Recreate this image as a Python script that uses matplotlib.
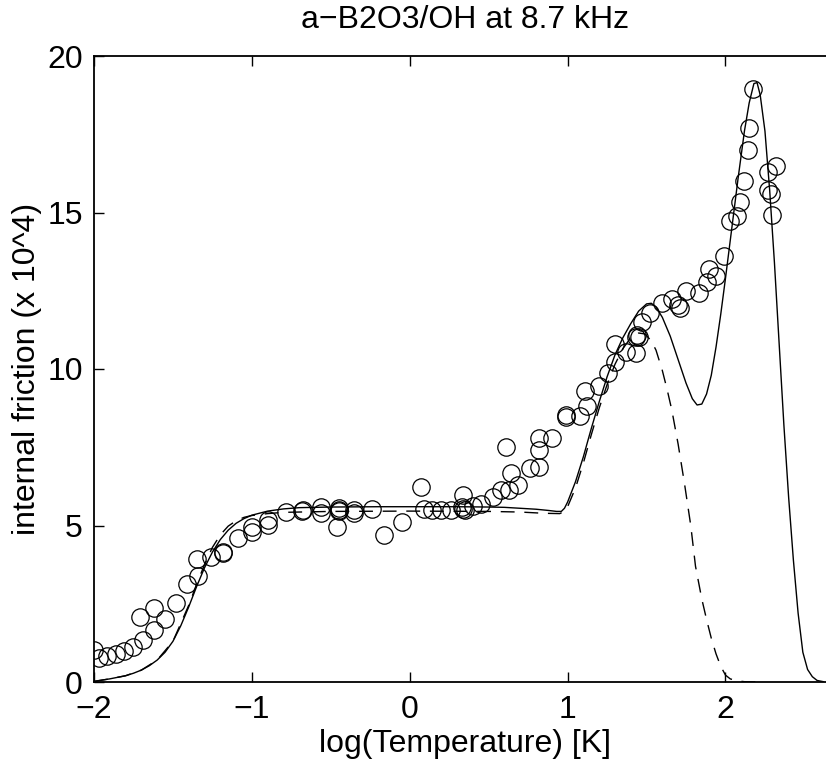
import numpy as np
import matplotlib
matplotlib.use("Agg")
import matplotlib.pyplot as plt

plt.rcParams['font.family'] = ['Liberation Sans', 'DejaVu Sans']

# measured internal friction (open circles)
logT_meas = [-2.00, -1.97, -1.92, -1.86, -1.81, -1.755, -1.69, -1.71, -1.62, -1.62,
             -1.55, -1.48, -1.41, -1.34, -1.35, -1.26, -1.18, -1.18, -1.09, -1.00,
             -1.00, -0.90, -0.90, -0.785, -0.675, -0.68, -0.56, -0.56, -0.45, -0.45,
             -0.45, -0.46, -0.35, -0.35, -0.24, -0.16, -0.05, 0.07, 0.09, 0.14,
             0.20, 0.26, 0.34, 0.34, 0.35, 0.33, 0.40, 0.45, 0.53, 0.58,
             0.61, 0.63, 0.64, 0.685, 0.76, 0.82, 0.82, 0.82, 0.90, 0.99,
             0.99, 1.08, 1.12, 1.11, 1.20, 1.255, 1.30, 1.30, 1.37, 1.43,
             1.45, 1.44, 1.43, 1.47, 1.52, 1.60, 1.66, 1.71, 1.70, 1.75,
             1.835, 1.88, 1.895, 1.94, 1.99, 2.03, 2.07, 2.09, 2.12, 2.14,
             2.15, 2.173, 2.27, 2.27, 2.29, 2.295, 2.32]
Q_meas = [1.02, 0.76, 0.83, 0.89, 1.00, 1.11, 1.34, 2.07, 1.66, 2.35,
          2.00, 2.51, 3.13, 3.39, 3.92, 4.00, 4.16, 4.12, 4.59, 4.96,
          4.80, 5.18, 5.02, 5.44, 5.51, 5.47, 5.60, 5.40, 5.51, 5.56,
          5.46, 4.94, 5.41, 5.48, 5.54, 4.70, 5.12, 6.22, 5.54, 5.51,
          5.51, 5.51, 5.54, 5.97, 5.50, 5.58, 5.62, 5.70, 5.92, 6.13,
          7.52, 6.13, 6.67, 6.29, 6.83, 6.88, 7.41, 7.79, 7.79, 8.46,
          8.53, 8.50, 8.82, 9.31, 9.46, 9.86, 10.23, 10.80, 10.55, 10.50,
          11.01, 11.10, 11.03, 11.51, 11.80, 12.12, 12.23, 11.94, 12.05, 12.50,
          12.44, 12.79, 13.20, 12.97, 13.60, 14.74, 14.90, 15.35, 16.00, 17.00,
          17.70, 18.93, 16.28, 15.72, 15.60, 14.92, 16.50]

# model fit, both relaxation processes (solid)
logT_fit = [-2.00, -1.95, -1.90, -1.85, -1.80, -1.75, -1.70, -1.65, -1.60, -1.55,
            -1.50, -1.45, -1.40, -1.35, -1.30, -1.25, -1.20, -1.15, -1.10, -1.05,
            -1.00, -0.90, -0.80, -0.70, -0.50, -0.20, 0.00, 0.30, 0.50, 0.60,
            0.70, 0.80, 0.88, 0.93, 0.96, 0.98, 1.00, 1.05, 1.10, 1.15,
            1.20, 1.25, 1.30, 1.35, 1.40, 1.45, 1.50, 1.53, 1.56, 1.60,
            1.65, 1.70, 1.75, 1.79, 1.82, 1.85, 1.88, 1.91, 1.94, 1.97,
            2.00, 2.04, 2.08, 2.12, 2.15, 2.18, 2.20, 2.22, 2.25, 2.28,
            2.31, 2.34, 2.37, 2.40, 2.43, 2.46, 2.49, 2.52, 2.55, 2.58,
            2.62]
Q_fit = [0.02, 0.06, 0.10, 0.15, 0.20, 0.28, 0.38, 0.52, 0.70, 0.95,
         1.30, 1.80, 2.40, 3.05, 3.65, 4.15, 4.55, 4.85, 5.07, 5.22,
         5.33, 5.46, 5.53, 5.57, 5.59, 5.60, 5.60, 5.60, 5.59, 5.58,
         5.55, 5.52, 5.48, 5.45, 5.45, 5.55, 5.75, 6.40, 7.20, 8.10,
         8.95, 9.75, 10.45, 11.00, 11.45, 11.85, 12.08, 12.10, 11.98, 11.65,
         11.05, 10.30, 9.55, 9.05, 8.85, 8.88, 9.20, 9.80, 10.70, 11.75,
         12.90, 14.50, 16.10, 17.60, 18.50, 19.12, 19.15, 18.75, 17.60, 15.70,
         13.40, 10.80, 8.20, 5.90, 3.90, 2.20, 0.95, 0.40, 0.17, 0.05,
         0.01]

# model fit, lower-temperature process only (dashed)
logT_dash = [-2.00, -1.90, -1.80, -1.70, -1.60, -1.50, -1.40, -1.35, -1.30, -1.25,
             -1.20, -1.15, -1.10, -1.05, -1.00, -0.90, -0.80, -0.50, 0.00, 0.50,
             0.70, 0.85, 0.95, 0.98, 1.00, 1.05, 1.10, 1.15, 1.20, 1.25,
             1.30, 1.35, 1.40, 1.45, 1.49, 1.53, 1.56, 1.60, 1.63, 1.66,
             1.70, 1.74, 1.78, 1.81, 1.85, 1.88, 1.91, 1.94, 1.97, 2.00,
             2.03, 2.07, 2.12, 2.20]
Q_dash = [0.02, 0.10, 0.20, 0.38, 0.70, 1.30, 2.45, 3.12, 3.75, 4.30,
          4.70, 4.98, 5.15, 5.26, 5.32, 5.38, 5.42, 5.45, 5.46, 5.45,
          5.43, 5.39, 5.38, 5.45, 5.60, 6.20, 7.00, 7.90, 8.75, 9.50,
          10.15, 10.65, 11.00, 11.15, 11.12, 10.90, 10.60, 9.95, 9.35, 8.69,
          7.60, 6.35, 5.00, 3.70, 2.65, 2.00, 1.40, 0.90, 0.50, 0.22,
          0.10, 0.04, 0.01, 0.00]

fig = plt.figure(figsize=(8.26, 7.68), dpi=100)
ax = fig.add_axes([94/826, 86/768, 742/826, 626/768])

ax.plot(logT_fit, Q_fit, '-', color='k', lw=1.0)
ax.plot(logT_dash, Q_dash, '--', color='k', lw=1.0, dashes=(10, 7))
ax.plot(logT_meas, Q_meas, 'o', mfc='none', mec='k', ms=12.5, mew=0.9)

ax.set_xlim(-2, 2.7)
ax.set_ylim(0, 20)
ax.set_xticks([-2, -1, 0, 1, 2])
ax.set_yticks([0, 5, 10, 15, 20])
ax.set_xticklabels(['\u22122', '\u22121', '0', '1', '2'])
ax.tick_params(direction='in', length=7, width=1.0, labelsize=23,
               top=True, right=True)
ax.tick_params(axis='x', pad=9)
ax.tick_params(axis='y', pad=8)
for s in ax.spines.values():
    s.set_linewidth(1.3)

ax.set_xlabel('log(Temperature) [K]', fontsize=23, labelpad=3)
ax.set_ylabel('internal friction (x 10^4)', fontsize=23, labelpad=4)
ax.set_title('a\u2212B2O3/OH at 8.7 kHz', fontsize=23, pad=20)

fig.savefig('out.png', dpi=100)
